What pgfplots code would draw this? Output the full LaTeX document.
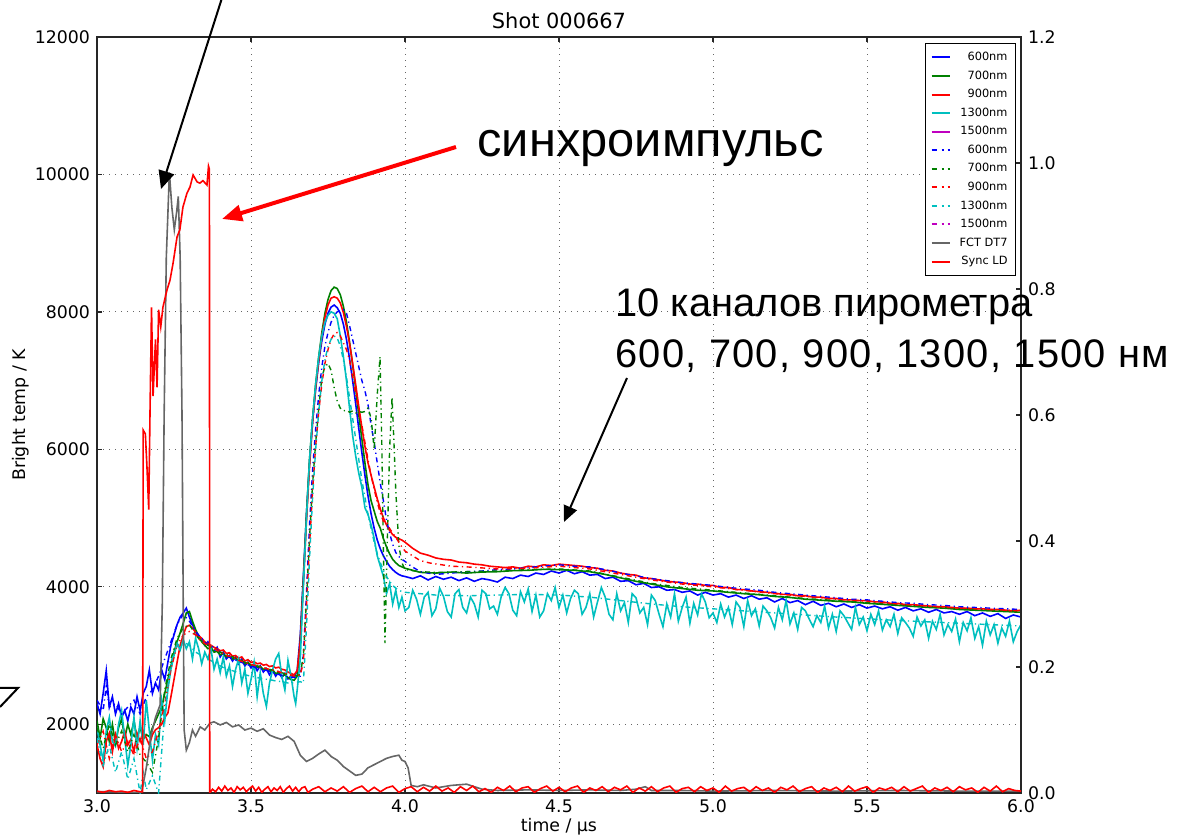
\documentclass[border=0pt]{standalone}
\usepackage{pgfplots}
\pgfplotsset{compat=1.18}
\usepackage{fontspec}
\setmainfont{DejaVu Sans}
\newfontfamily\arial{Liberation Sans}
\usetikzlibrary{arrows.meta}
\definecolor{mb}{rgb}{0,0,1}
\definecolor{mg}{rgb}{0,0.5,0}
\definecolor{mr}{rgb}{1,0,0}
\definecolor{mc}{rgb}{0,0.75,0.75}
\definecolor{mm}{rgb}{0.75,0,0.75}
\definecolor{mgray}{rgb}{0.4,0.4,0.4}
\tikzset{dd/.style={line width=0.7bp, dash pattern=on 2.5bp off 1.8bp on 0.6bp off 1.8bp}}
\begin{document}
\begin{tikzpicture}
\useasboundingbox (0,0) rectangle (592bp,418.5bp);
\pgfplotsset{
  every axis/.append style={
    scale only axis, width=462bp, height=378bp,
    at={(48.5bp,22bp)}, anchor=south west,
    xmin=3, xmax=6,
    tick align=inside, major tick length=2.5bp,
    axis line style={black!85, line width=0.8bp},
    every tick/.style={black!85, line width=0.6bp},
    tick label style={font=\fontsize{8.7}{10}\selectfont},
    /pgf/number format/assume math mode=true,
  },
}
\begin{axis}[
  ymin=1000, ymax=12000,
  xtick={3,3.5,4,4.5,5,5.5,6},
  ytick={2000,4000,6000,8000,10000,12000},
  ytick pos=left,
  scaled y ticks=false,
  xticklabel style={/pgf/number format/.cd, fixed, fixed zerofill, precision=1},
  yticklabel style={/pgf/number format/.cd, 1000 sep={}},
  grid=major,
  grid style={black!60, line width=0.5bp, dash pattern=on 0.6bp off 2.4bp},
]
% 600nm solid
\addplot[mb, line width=0.8bp] table {
x y
3.00 2300
3.01 2150
3.02 2450
3.03 2780
3.04 2250
3.05 2400
3.06 2150
3.07 2300
3.08 2100
3.09 2200
3.10 2050
3.11 2250
3.12 2150
3.13 2400
3.14 2200
3.15 2450
3.16 2550
3.17 2790
3.18 2450
3.19 2600
3.20 2500
3.21 2790
3.22 2650
3.23 2900
3.24 3150
3.25 3300
3.26 3450
3.27 3560
3.28 3620
3.29 3690
3.30 3560
3.31 3450
3.32 3350
3.33 3260
3.34 3250
3.35 3150
3.36 3200
3.37 3100
3.38 3060
3.39 3120
3.40 2980
3.41 3050
3.42 2950
3.43 3000
3.44 2920
3.45 2980
3.46 2880
3.47 2950
3.48 2850
3.49 2900
3.50 2820
3.51 2870
3.52 2780
3.53 2850
3.54 2760
3.55 2810
3.56 2720
3.57 2790
3.58 2700
3.59 2760
3.60 2680
3.61 2740
3.62 2660
3.63 2700
3.64 2690
3.65 2780
3.66 3300
3.67 4150
3.68 5050
3.69 5800
3.70 6400
3.71 6880
3.72 7270
3.73 7580
3.74 7820
3.75 7980
3.76 8070
3.77 8100
3.78 8060
3.79 7980
3.80 7820
3.81 7600
3.82 7320
3.83 7000
3.84 6660
3.85 6300
3.86 5950
3.87 5620
3.88 5320
3.89 5060
3.90 4850
3.91 4680
3.92 4550
3.93 4450
3.94 4370
3.95 4300
3.96 4250
3.97 4210
3.98 4180
3.99 4160
4.00 4150
4.025 4120
4.05 4160
4.075 4100
4.10 4150
4.125 4110
4.15 4140
4.175 4090
4.20 4130
4.225 4080
4.25 4120
4.275 4100
4.30 4070
4.325 4140
4.35 4120
4.375 4170
4.40 4150
4.425 4200
4.45 4180
4.475 4230
4.50 4200
4.525 4240
4.55 4190
4.575 4220
4.60 4170
4.625 4180
4.65 4120
4.675 4140
4.70 4080
4.725 4090
4.75 4030
4.775 4050
4.80 3990
4.825 4000
4.85 3950
4.875 3960
4.90 3920
4.925 3940
4.95 3880
4.975 3920
5.00 3880
5.025 3900
5.05 3850
5.075 3880
5.10 3830
5.125 3870
5.15 3820
5.175 3840
5.20 3780
5.225 3830
5.25 3770
5.275 3800
5.30 3740
5.325 3790
5.35 3730
5.375 3760
5.40 3710
5.425 3750
5.45 3700
5.475 3740
5.50 3690
5.525 3720
5.55 3680
5.575 3710
5.60 3660
5.625 3700
5.65 3650
5.675 3680
5.70 3630
5.725 3670
5.75 3620
5.775 3640
5.80 3600
5.825 3640
5.85 3580
5.875 3620
5.90 3570
5.925 3610
5.95 3540
5.975 3590
6.00 3560
};
% 700nm solid
\addplot[mg, line width=0.8bp] table {
x y
3.00 2050
3.01 1800
3.02 2080
3.03 1950
3.04 1750
3.05 2000
3.06 1720
3.07 1950
3.08 2080
3.09 1800
3.10 2000
3.11 1850
3.12 2050
3.13 1800
3.14 1960
3.15 1780
3.16 1850
3.17 1820
3.18 1950
3.19 2050
3.20 2150
3.21 2250
3.22 2450
3.23 2650
3.24 2850
3.25 3050
3.26 3200
3.27 3330
3.28 3470
3.29 3620
3.30 3640
3.31 3500
3.32 3380
3.33 3280
3.34 3200
3.35 3150
3.36 3100
3.37 3120
3.38 3050
3.39 3060
3.40 3010
3.41 3030
3.42 2980
3.43 2990
3.44 2950
3.45 2960
3.46 2920
3.47 2930
3.48 2880
3.49 2900
3.50 2860
3.51 2870
3.52 2830
3.53 2840
3.54 2800
3.55 2810
3.56 2770
3.57 2790
3.58 2740
3.59 2750
3.60 2700
3.61 2720
3.62 2680
3.63 2650
3.64 2640
3.65 2700
3.66 3200
3.67 4100
3.68 5050
3.69 5850
3.70 6450
3.71 6950
3.72 7350
3.73 7700
3.74 7980
3.75 8180
3.76 8310
3.77 8360
3.78 8340
3.79 8250
3.80 8080
3.81 7850
3.82 7560
3.83 7230
3.84 6880
3.85 6500
3.86 6150
3.87 5800
3.88 5480
3.89 5250
3.90 5100
3.91 4950
3.92 4850
3.93 4700
3.94 4580
3.95 4480
3.96 4400
3.97 4350
3.98 4310
3.99 4290
4.00 4270
4.05 4210
4.10 4200
4.15 4215
4.20 4200
4.25 4215
4.30 4220
4.35 4235
4.40 4240
4.45 4255
4.50 4250
4.55 4240
4.60 4220
4.65 4180
4.70 4130
4.75 4080
4.80 4040
4.85 4000
4.90 3975
4.95 3950
5.00 3940
5.05 3920
5.10 3900
5.15 3885
5.20 3860
5.25 3845
5.30 3820
5.35 3805
5.40 3790
5.45 3780
5.50 3760
5.55 3745
5.60 3730
5.65 3715
5.70 3700
5.75 3690
5.80 3670
5.85 3660
5.90 3650
5.95 3640
6.00 3630
};
% 900nm solid
\addplot[mr, line width=0.8bp] table {
x y
3.00 1700
3.01 1500
3.02 1380
3.03 1750
3.04 1870
3.05 1600
3.06 1850
3.07 1650
3.08 1750
3.09 1900
3.10 1700
3.11 1780
3.12 1600
3.13 1870
3.14 1750
3.15 1900
3.16 1800
3.17 1700
3.18 1850
3.19 1920
3.20 1950
3.21 2000
3.22 2100
3.23 2160
3.24 2400
3.25 2650
3.26 2900
3.27 3150
3.28 3300
3.29 3420
3.30 3440
3.31 3400
3.32 3340
3.33 3290
3.34 3250
3.35 3200
3.36 3170
3.37 3150
3.38 3120
3.39 3100
3.40 3070
3.41 3080
3.42 3030
3.43 3040
3.44 2990
3.45 3000
3.46 2960
3.47 2980
3.48 2920
3.49 2940
3.50 2900
3.51 2910
3.52 2880
3.53 2890
3.54 2860
3.55 2870
3.56 2840
3.57 2850
3.58 2820
3.59 2830
3.60 2800
3.61 2790
3.62 2760
3.63 2740
3.64 2720
3.65 2780
3.66 3200
3.67 4050
3.68 4950
3.69 5750
3.70 6400
3.71 6900
3.72 7300
3.73 7650
3.74 7920
3.75 8100
3.76 8200
3.77 8220
3.78 8200
3.79 8130
3.80 7990
3.81 7790
3.82 7540
3.83 7250
3.84 6940
3.85 6620
3.86 6320
3.87 6040
3.88 5800
3.89 5620
3.90 5450
3.91 5280
3.92 5130
3.93 5000
3.94 4900
3.95 4820
3.96 4760
3.97 4720
3.98 4700
3.99 4680
4.00 4650
4.025 4560
4.05 4490
4.075 4460
4.10 4420
4.125 4400
4.15 4390
4.175 4360
4.20 4350
4.225 4330
4.25 4320
4.275 4300
4.30 4290
4.325 4280
4.35 4290
4.375 4270
4.40 4300
4.425 4290
4.45 4320
4.475 4310
4.50 4330
4.525 4320
4.55 4310
4.575 4300
4.60 4280
4.625 4270
4.65 4240
4.675 4230
4.70 4200
4.725 4180
4.75 4170
4.775 4130
4.80 4120
4.825 4100
4.85 4080
4.875 4070
4.90 4060
4.925 4040
4.95 4040
4.975 4020
5.00 4020
5.025 3990
5.05 3990
5.075 3960
5.10 3960
5.125 3940
5.15 3930
5.175 3920
5.20 3910
5.225 3890
5.25 3890
5.275 3870
5.30 3870
5.325 3850
5.35 3850
5.375 3830
5.40 3830
5.425 3810
5.45 3810
5.475 3800
5.50 3800
5.525 3780
5.55 3780
5.575 3760
5.60 3760
5.625 3740
5.65 3740
5.675 3730
5.70 3720
5.725 3710
5.75 3710
5.775 3700
5.80 3690
5.825 3690
5.85 3680
5.875 3680
5.90 3670
5.925 3670
5.95 3660
5.975 3650
6.00 3660
};
% 1300nm solid
\addplot[mc, line width=0.8bp] table {
x y
3.00 1950
3.01 1700
3.02 1480
3.03 1900
3.04 2100
3.05 1750
3.06 1680
3.07 2000
3.08 2200
3.09 1800
3.10 1400
3.11 1700
3.12 2100
3.13 1650
3.14 2050
3.15 1700
3.16 2350
3.17 1900
3.18 1480
3.19 1850
3.20 1700
3.21 2350
3.22 2050
3.23 2500
3.24 2800
3.25 3000
3.26 3180
3.27 3080
3.28 3230
3.29 3100
3.30 3200
3.31 2950
3.32 3250
3.33 3100
3.34 2880
3.35 3050
3.36 2950
3.37 3100
3.38 2800
3.39 2950
3.40 2750
3.41 2980
3.42 2700
3.43 2850
3.44 2550
3.45 2800
3.46 2950
3.47 2600
3.48 2800
3.49 2450
3.50 2650
3.51 2900
3.52 2400
3.53 2750
3.54 2450
3.55 2260
3.56 2600
3.57 2790
3.58 2950
3.59 3030
3.60 2700
3.61 2500
3.62 2930
3.63 2700
3.64 2400
3.645 2300
3.65 2500
3.66 2950
3.67 4000
3.68 5000
3.69 5850
3.70 6450
3.71 6950
3.72 7350
3.73 7650
3.74 7850
3.75 7950
3.76 8000
3.77 7980
3.78 7900
3.79 7650
3.80 7350
3.81 7000
3.82 6600
3.83 6200
3.84 5900
3.85 5650
3.86 5450
3.87 5150
3.88 5050
3.89 4900
3.90 4700
3.91 4450
3.92 4300
3.93 4150
3.94 3900
3.95 4050
3.96 3750
3.97 3950
3.98 3700
3.99 3850
4.00 3650
4.0125 3700
4.025 3950
4.0375 3820
4.05 3600
4.0625 3850
4.075 3920
4.0875 3580
4.10 3680
4.1125 3980
4.125 3860
4.1375 3640
4.15 3560
4.1625 3900
4.175 3960
4.1875 3700
4.20 3620
4.2125 3850
4.225 3750
4.2375 3560
4.25 3950
4.2625 3900
4.275 3680
4.2875 3720
4.30 3600
4.3125 3860
4.325 3990
4.3375 3900
4.35 3660
4.3625 3580
4.375 3930
4.3875 3780
4.40 3970
4.4125 3640
4.425 3880
4.4375 3560
4.45 3650
4.4625 3900
4.475 3800
4.4875 3990
4.50 3700
4.5125 3880
4.525 3620
4.5375 3830
4.55 3950
4.5625 3900
4.575 3600
4.5875 3700
4.60 3900
4.6125 3560
4.625 3780
4.6375 3990
4.65 3850
4.6625 3600
4.675 3520
4.6875 3900
4.70 3650
4.7125 3770
4.725 3480
4.7375 3900
4.75 3840
4.7625 3620
4.775 3700
4.7875 3450
4.80 3880
4.8125 3800
4.825 3600
4.8375 3420
4.85 3750
4.8625 3560
4.875 3900
4.8875 3500
4.90 3700
4.9125 3850
4.925 3470
4.9375 3760
4.95 3590
4.9625 3900
4.975 3780
4.9875 3550
5.00 3620
5.0125 3480
5.025 3750
5.0375 3560
5.05 3700
5.0625 3450
5.075 3780
5.0875 3700
5.10 3420
5.1125 3800
5.125 3580
5.1375 3680
5.15 3430
5.1625 3720
5.175 3650
5.1875 3550
5.20 3400
5.2125 3700
5.225 3520
5.2375 3800
5.25 3460
5.2625 3620
5.275 3380
5.2875 3700
5.30 3650
5.3125 3530
5.325 3420
5.3375 3580
5.35 3480
5.3625 3720
5.375 3400
5.3875 3600
5.40 3350
5.4125 3650
5.425 3580
5.4375 3480
5.45 3380
5.4625 3700
5.475 3450
5.4875 3560
5.50 3360
5.5125 3600
5.525 3450
5.5375 3650
5.55 3370
5.5625 3520
5.575 3420
5.5875 3600
5.60 3320
5.6125 3550
5.625 3480
5.6375 3400
5.65 3280
5.6625 3560
5.675 3430
5.6875 3520
5.70 3250
5.7125 3500
5.725 3380
5.7375 3600
5.75 3300
5.7625 3450
5.775 3350
5.7875 3530
5.80 3200
5.8125 3480
5.825 3360
5.8375 3550
5.85 3250
5.8625 3420
5.875 3150
5.8875 3500
5.90 3300
5.9125 3450
5.925 3180
5.9375 3400
5.95 3280
5.9625 3500
5.975 3200
5.9875 3350
6.00 3450
};
% 600nm dash-dot
\addplot[mb, dd] table {
x y
3.00 2350
3.02 2200
3.03 2550
3.04 2250
3.06 2300
3.08 2150
3.10 2250
3.12 2350
3.14 2150
3.16 2400
3.18 2500
3.20 2700
3.22 2950
3.24 3200
3.26 3450
3.28 3600
3.30 3500
3.32 3350
3.34 3250
3.36 3150
3.38 3120
3.40 3050
3.42 3000
3.44 2950
3.46 2920
3.48 2880
3.50 2850
3.52 2820
3.54 2800
3.56 2770
3.58 2740
3.60 2710
3.62 2690
3.64 2680
3.66 2700
3.67 3000
3.68 3900
3.69 4900
3.70 5700
3.71 6300
3.72 6800
3.73 7200
3.74 7500
3.75 7700
3.76 7850
3.77 7950
3.78 8000
3.79 8020
3.80 8030
3.81 7980
3.82 7800
3.83 7600
3.84 7400
3.85 7200
3.86 7000
3.87 6850
3.88 6650
3.89 6350
3.90 6100
3.91 5800
3.92 5500
3.93 5250
3.94 4970
3.95 4780
3.96 4620
3.97 4500
3.98 4440
3.99 4400
4.00 4370
4.02 4300
4.05 4220
4.10 4180
4.15 4200
4.20 4220
4.25 4230
4.30 4250
4.35 4260
4.40 4280
4.45 4300
4.50 4320
4.55 4300
4.60 4290
4.65 4250
4.70 4200
4.75 4160
4.80 4120
4.85 4090
4.90 4060
4.95 4040
5.00 4020
5.05 3990
5.10 3970
5.15 3950
5.20 3920
5.25 3900
5.30 3880
5.35 3860
5.40 3840
5.45 3820
5.50 3810
5.55 3790
5.60 3770
5.65 3760
5.70 3740
5.75 3730
5.80 3710
5.85 3700
5.90 3690
5.95 3680
6.00 3670
};
% 700nm dash-dot
\addplot[mg, dd] table {
x y
3.00 1950
3.02 1650
3.04 2000
3.06 1700
3.08 1900
3.10 1600
3.12 1850
3.14 1550
3.16 1450
3.18 1300
3.20 1800
3.22 2500
3.24 2950
3.26 3250
3.28 3400
3.30 3450
3.32 3300
3.34 3200
3.36 3150
3.38 3100
3.40 3050
3.44 2980
3.48 2900
3.52 2850
3.56 2800
3.60 2750
3.64 2700
3.66 2720
3.67 3000
3.68 3800
3.69 4700
3.70 5500
3.71 6100
3.72 6600
3.73 7050
3.74 7200
3.75 7250
3.76 7150
3.77 6900
3.78 6700
3.79 6600
3.80 6560
3.81 6570
3.82 6540
3.83 6560
3.84 6530
3.85 6550
3.86 6540
3.87 6550
3.88 6600
3.89 6450
3.90 6000
3.91 6800
3.919 7350
3.925 6000
3.93 4500
3.935 3180
3.94 4200
3.95 6000
3.958 6760
3.965 6000
3.97 5400
3.98 4600
3.99 4350
4.00 4250
4.05 4220
4.10 4210
4.20 4220
4.30 4230
4.40 4250
4.50 4260
4.60 4230
4.70 4140
4.80 4050
4.90 3990
5.00 3950
5.10 3910
5.20 3870
5.30 3830
5.40 3800
5.50 3770
5.60 3740
5.70 3710
5.80 3680
5.90 3660
6.00 3640
};
% 900nm dash-dot
\addplot[mr, dd] table {
x y
3.00 1700
3.02 1900
3.04 1500
3.06 1850
3.08 1600
3.10 1750
3.12 1550
3.14 1800
3.16 1500
3.18 1600
3.20 1900
3.22 2300
3.24 2800
3.26 3150
3.28 3300
3.30 3350
3.32 3300
3.34 3200
3.36 3150
3.38 3100
3.40 3050
3.42 3000
3.44 2980
3.46 2930
3.48 2900
3.50 2870
3.52 2850
3.54 2820
3.56 2800
3.58 2780
3.60 2750
3.62 2730
3.64 2700
3.66 2720
3.67 2900
3.68 3700
3.69 4600
3.70 5400
3.71 6050
3.72 6550
3.73 6950
3.74 7250
3.75 7450
3.76 7600
3.77 7680
3.78 7700
3.79 7650
3.80 7550
3.81 7450
3.82 7300
3.83 7050
3.84 6800
3.85 6550
3.86 6350
3.87 6100
3.88 5850
3.89 5620
3.90 5420
3.91 5230
3.92 5070
3.93 4950
3.94 4950
3.95 4850
3.96 4780
3.97 4720
3.98 4650
3.99 4580
4.00 4520
4.05 4380
4.08 4347
4.15 4300
4.20 4290
4.30 4260
4.40 4270
4.50 4300
4.60 4260
4.70 4180
4.80 4100
4.90 4040
5.00 4000
5.10 3950
5.20 3900
5.30 3860
5.40 3820
5.50 3790
5.60 3750
5.70 3720
5.80 3690
5.90 3670
6.00 3650
};
% 1300nm dash-dot
\addplot[mc, dd] table {
x y
3.00 1800
3.02 1400
3.04 1700
3.06 1300
3.08 1600
3.10 1200
3.12 1500
3.14 1000
3.15 1300
3.16 1050
3.18 1250
3.20 1000
3.21 1600
3.22 2200
3.24 2900
3.26 3150
3.28 3200
3.30 3150
3.32 3050
3.34 3000
3.36 2950
3.38 2900
3.40 2850
3.42 2800
3.44 2780
3.46 2750
3.48 2720
3.50 2700
3.52 2680
3.54 2660
3.56 2650
3.58 2630
3.60 2620
3.62 2600
3.64 2600
3.66 2620
3.67 2600
3.68 3400
3.69 4400
3.70 5300
3.71 6000
3.72 6550
3.73 7000
3.74 7300
3.75 7500
3.76 7600
3.77 7650
3.78 7620
3.79 7500
3.80 7300
3.81 7050
3.82 6750
3.83 6450
3.84 6150
3.85 5850
3.86 5550
3.87 5300
3.88 5050
3.89 4850
3.90 4650
3.91 4480
3.92 4350
3.93 4240
3.94 4150
3.95 4080
3.96 4020
3.97 3980
3.98 3950
3.99 3930
4.00 3920
4.10 3880
4.20 3870
4.30 3880
4.40 3890
4.50 3880
4.60 3850
4.70 3800
4.80 3750
4.90 3710
5.00 3680
5.20 3620
5.40 3560
5.60 3510
5.80 3470
6.00 3430
};
\end{axis}
\begin{axis}[
  ymin=0, ymax=1.2,
  ytick={0,0.2,0.4,0.6,0.8,1.0,1.2},
  axis x line=none,
  axis y line*=right,
  ytick pos=right,
  yticklabel style={/pgf/number format/.cd, fixed, fixed zerofill, precision=1},
  legend cell align=right,
  legend style={at={(axis description cs:1,1)}, xshift=-2.5bp, yshift=-3bp,
    anchor=north east, draw=black, line width=0.5bp, fill=white,
    font=\fontsize{5.7}{6.5}\selectfont,
    inner sep=2.5bp, row sep=0.3bp, column sep=3bp,
    nodes={inner sep=1.5bp, text height=4.6pt, text depth=1.4pt}},
  legend image code/.code={\draw[#1] (0bp,0bp) -- (9bp,0bp);},
]
\addlegendimage{mb, line width=1bp}
\addlegendentry{600nm}
\addlegendimage{mg, line width=1bp}
\addlegendentry{700nm}
\addlegendimage{mr, line width=1bp}
\addlegendentry{900nm}
\addlegendimage{mc, line width=1bp}
\addlegendentry{1300nm}
\addlegendimage{mm, line width=1bp}
\addlegendentry{1500nm}
\addlegendimage{mb, line width=1bp, dash pattern=on 2.5bp off 2.5bp on 1bp off 2bp}
\addlegendentry{600nm}
\addlegendimage{mg, line width=1bp, dash pattern=on 2.5bp off 2.5bp on 1bp off 2bp}
\addlegendentry{700nm}
\addlegendimage{mr, line width=1bp, dash pattern=on 2.5bp off 2.5bp on 1bp off 2bp}
\addlegendentry{900nm}
\addlegendimage{mc, line width=1bp, dash pattern=on 2.5bp off 2.5bp on 1bp off 2bp}
\addlegendentry{1300nm}
\addlegendimage{mm, line width=1bp, dash pattern=on 2.5bp off 2.5bp on 1bp off 2bp}
\addlegendentry{1500nm}
% FCT DT7
\addplot[mgray, line width=0.8bp, forget plot] table {
x y
3.00 0.002
3.05 0.002
3.10 0.001
3.145 0.001
3.16 0.04
3.175 0.09
3.19 0.12
3.205 0.14
3.212 0.30
3.218 0.60
3.225 0.85
3.235 0.985
3.243 0.93
3.251 0.894
3.258 0.92
3.264 0.947
3.270 0.85
3.276 0.60
3.280 0.30
3.283 0.10
3.290 0.068
3.300 0.080
3.310 0.100
3.320 0.090
3.335 0.105
3.350 0.100
3.367 0.111
3.380 0.113
3.40 0.108
3.42 0.112
3.44 0.105
3.46 0.108
3.48 0.100
3.50 0.103
3.52 0.098
3.54 0.102
3.56 0.092
3.58 0.088
3.60 0.085
3.62 0.090
3.64 0.082
3.66 0.060
3.68 0.050
3.70 0.055
3.72 0.062
3.74 0.068
3.76 0.058
3.78 0.052
3.80 0.042
3.82 0.035
3.84 0.028
3.86 0.030
3.88 0.040
3.90 0.045
3.92 0.050
3.94 0.055
3.96 0.058
3.98 0.060
3.99 0.052
4.00 0.050
4.01 0.040
4.02 0.012
4.04 0.010
4.06 0.013
4.10 0.008
4.15 0.012
4.20 0.014
4.25 0.006
4.30 0.004
4.40 0.005
4.50 0.004
4.60 0.005
4.70 0.004
4.75 0.006
4.78 0.010
4.80 0.004
4.90 0.004
5.00 0.003
5.20 0.004
5.40 0.003
5.60 0.004
5.80 0.003
6.00 0.003
};
\addlegendimage{mgray, line width=1bp}
\addlegendentry{FCT DT7}
% Sync LD
\addplot[mr, line width=0.8bp, forget plot] table {
x y
3.00 0.003
3.02 0.001
3.04 0.004
3.06 0.002
3.08 0.003
3.10 0.001
3.12 0.004
3.14 0.002
3.148 0.002
3.150 0.576
3.157 0.570
3.162 0.520
3.168 0.450
3.172 0.600
3.177 0.771
3.182 0.630
3.190 0.720
3.195 0.644
3.200 0.767
3.207 0.740
3.214 0.771
3.227 0.798
3.237 0.814
3.247 0.841
3.260 0.883
3.269 0.894
3.279 0.930
3.292 0.952
3.302 0.962
3.312 0.981
3.325 0.970
3.334 0.968
3.344 0.972
3.357 0.965
3.362 0.995
3.365 0.990
3.366 0.000
3.375 0.006
3.385 0.002
3.395 0.009
3.405 0.003
3.415 0.011
3.425 0.004
3.435 0.008
3.445 0.001
3.455 0.010
3.465 0.005
3.475 0.009
3.485 0.002
3.495 0.007
3.505 0.011
3.515 0.003
3.525 0.009
3.535 0.001
3.545 0.006
3.555 0.010
3.565 0.002
3.575 0.008
3.585 0.004
3.595 0.010
3.605 0.001
3.615 0.007
3.625 0.011
3.635 0.003
3.645 0.009
3.655 0.002
3.665 0.008
3.675 0.010
3.685 0.001
3.70 0.006
3.72 0.010
3.74 0.002
3.76 0.008
3.78 0.003
3.80 0.010
3.82 0.001
3.84 0.007
3.86 0.011
3.88 0.002
3.90 0.009
3.92 0.002
3.94 0.008
3.96 0.011
3.98 0.001
4.00 0.007
4.02 0.010
4.04 0.002
4.06 0.009
4.08 0.003
4.10 0.011
4.12 0.003
4.14 0.008
4.16 0.001
4.18 0.010
4.20 0.004
4.22 0.011
4.24 0.002
4.26 0.007
4.28 0.001
4.30 0.009
4.32 0.004
4.34 0.011
4.36 0.002
4.38 0.008
4.40 0.010
4.42 0.001
4.44 0.007
4.46 0.011
4.48 0.003
4.50 0.009
4.52 0.002
4.54 0.008
4.56 0.011
4.58 0.001
4.60 0.008
4.62 0.004
4.64 0.010
4.66 0.002
4.68 0.009
4.70 0.005
4.72 0.011
4.74 0.001
4.76 0.008
4.78 0.003
4.80 0.010
4.82 0.002
4.84 0.008
4.86 0.011
4.88 0.001
4.90 0.007
4.92 0.009
4.94 0.002
4.96 0.010
4.98 0.004
5.00 0.008
5.02 0.001
5.04 0.011
5.06 0.003
5.08 0.007
5.10 0.009
5.12 0.002
5.14 0.010
5.16 0.004
5.18 0.008
5.20 0.001
5.22 0.009
5.24 0.005
5.26 0.011
5.28 0.002
5.30 0.007
5.32 0.010
5.34 0.001
5.36 0.008
5.38 0.004
5.40 0.009
5.42 0.002
5.44 0.011
5.46 0.003
5.48 0.007
5.50 0.010
5.52 0.001
5.54 0.008
5.56 0.005
5.58 0.009
5.60 0.002
5.62 0.010
5.64 0.003
5.66 0.007
5.68 0.011
5.70 0.001
5.72 0.008
5.74 0.004
5.76 0.009
5.78 0.002
5.80 0.010
5.82 0.005
5.84 0.008
5.86 0.001
5.88 0.009
5.90 0.003
5.92 0.011
5.94 0.002
5.96 0.007
5.98 0.004
6.00 0.003
};
\addlegendimage{mr, line width=1bp}
\addlegendentry{Sync LD}
\end{axis}
% titles and annotations in pixel coordinates (origin top-left)
\begin{scope}[x=0.5bp, y=-0.5bp, yshift=418.5bp]
  \node[anchor=base, inner sep=0, font=\fontsize{10.5}{12}\selectfont] at (559,29) {Shot 000667};
  \node[anchor=base, inner sep=0, font=\fontsize{8.7}{10}\selectfont] at (559,832) {time / µs};
  \node[anchor=base, inner sep=0, rotate=90, font=\fontsize{8.7}{10}\selectfont] at (25,415) {Bright temp / K};
  \draw[black, line width=1bp, -{Triangle[length=9bp, width=8bp]}] (222,-2) -- (161,189);
  \draw[mr, line width=2bp, -{Triangle[length=10bp, width=8bp]}] (456,147) -- (222,219);
  \draw[black, line width=1bp, -{Triangle[length=8bp, width=7bp]}] (627,378) -- (564,522);
  \draw[black, line width=1bp] (0,688) -- (18,688) -- (0,707);
  \node[anchor=base west, inner sep=0, font=\arial\fontsize{24.5}{28}\selectfont] at (477,157) {синхроимпульс};
  \node[anchor=base west, inner sep=0, font=\arial\fontsize{20}{24}\selectfont] at (615,317) {10 каналов пирометра};
  \node[anchor=base west, inner sep=0, font=\arial\fontsize{20}{24}\selectfont\addfontfeature{LetterSpace=3.2}] at (615,368) {600, 700, 900, 1300, 1500 нм};
\end{scope}
\end{tikzpicture}
\end{document}
